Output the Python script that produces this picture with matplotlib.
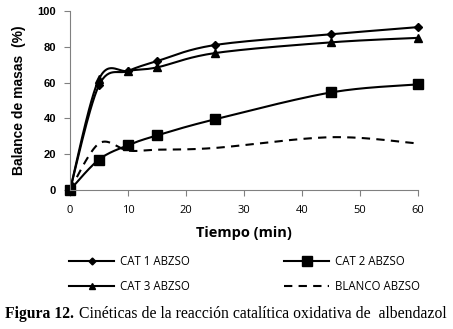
import numpy as np
import matplotlib
matplotlib.use('Agg')
import matplotlib.pyplot as plt
from matplotlib.lines import Line2D

tiempo = [0, 5, 10, 15, 25, 45, 60]
cat1 = [0, 58.5, 66.5, 72, 81, 87, 91]
cat2 = [0, 17, 25, 30.5, 39.5, 54.5, 59]
cat3 = [0, 62, 66.5, 68.5, 76.5, 82.5, 85]
blanco = [0, 26, 22, 22.5, 23.5, 29.5, 26]
labels = ['CAT 1 ABZSO', 'CAT 2 ABZSO', 'CAT 3 ABZSO', 'BLANCO ABZSO']


def smooth(x, y, n=30):
    # excel-style smoothed line (catmull-rom bezier)
    x = np.asarray(x, float)
    y = np.asarray(y, float)
    px = np.concatenate([[x[0]], x, [x[-1]]])
    py = np.concatenate([[y[0]], y, [y[-1]]])
    xs, ys = [], []
    t = np.linspace(0, 1, n)
    for i in range(1, len(px) - 2):
        p0 = np.array([px[i], py[i]])
        p3 = np.array([px[i + 1], py[i + 1]])
        p1 = p0 + (np.array([px[i + 1], py[i + 1]]) - np.array([px[i - 1], py[i - 1]])) / 6
        p2 = p3 - (np.array([px[i + 2], py[i + 2]]) - np.array([px[i], py[i]])) / 6
        b = ((1 - t) ** 3)[:, None] * p0 + (3 * (1 - t) ** 2 * t)[:, None] * p1 \
            + (3 * (1 - t) * t ** 2)[:, None] * p2 + (t ** 3)[:, None] * p3
        xs.extend(b[:, 0])
        ys.extend(b[:, 1])
    return xs, ys


fig = plt.figure(figsize=(4.53, 3.29), dpi=100)
ax = fig.add_axes([0.1545, 0.4225, 0.768, 0.544])

series = [(cat1, 'D', 4), (cat2, 's', 7), (cat3, '^', 6)]
for vals, m, ms in series:
    sx, sy = smooth(tiempo, vals)
    ax.plot(sx, sy, color='black', lw=1.5, clip_on=False)
    ax.plot(tiempo, vals, ls='none', marker=m, ms=ms, color='black', clip_on=False)
sx, sy = smooth(tiempo, blanco)
ax.plot(sx, sy, color='black', lw=1.5, ls=(0, (4, 3)), clip_on=False)

ax.set_xlim(0, 60)
ax.set_ylim(0, 100)
ax.set_xticks(range(0, 61, 10))
ax.set_yticks(range(0, 101, 20))
for s in ['top', 'right']:
    ax.spines[s].set_visible(False)
for s in ['left', 'bottom']:
    ax.spines[s].set_color('#808080')
ax.tick_params(direction='out', length=4, color='#808080')
ax.tick_params(axis='x', labelsize=8, pad=7)
ax.tick_params(axis='y', labelsize=8, pad=6)
for lab in ax.get_xticklabels():
    lab.set_fontfamily('Open Sans')
for lab in ax.get_yticklabels():
    lab.set_fontweight('bold')
    lab.set_fontfamily('Liberation Sans')

ax.set_xlabel('Tiempo (min)', fontsize=10.5, fontweight='bold', family='Open Sans', labelpad=7)
ax.set_ylabel('Balance de masas  (%)', fontsize=10, fontweight='bold', family='Liberation Sans', labelpad=8)

h1 = Line2D([], [], color='black', lw=1.5, marker='D', ms=3.5)
h2 = Line2D([], [], color='black', lw=1.5, marker='s', ms=7)
h3 = Line2D([], [], color='black', lw=1.5, marker='^', ms=5)
h4 = Line2D([], [], color='black', lw=1.5, ls=(0, (4, 3)))
# legend fills by column, so order for rows CAT1/CAT2 and CAT3/BLANCO
fig.legend([h1, h3, h2, h4], [labels[0], labels[2], labels[1], labels[3]],
           loc='upper left', bbox_to_anchor=(0.13, 0.257), ncol=2,
           frameon=False, handlelength=3.9, handletextpad=0.5, columnspacing=8.2,
           labelspacing=1.05, prop={'family': 'Open Sans', 'size': 8.3})

fig.text(0.01, 0.032, 'Figura 12.', family='Liberation Serif', fontweight='bold', fontsize=11.3)
fig.text(0.175, 0.032, 'Cinéticas de la reacción catalítica oxidativa de  albendazol',
         family='Liberation Serif', fontsize=11.3)

fig.savefig('out.png', dpi=100)
